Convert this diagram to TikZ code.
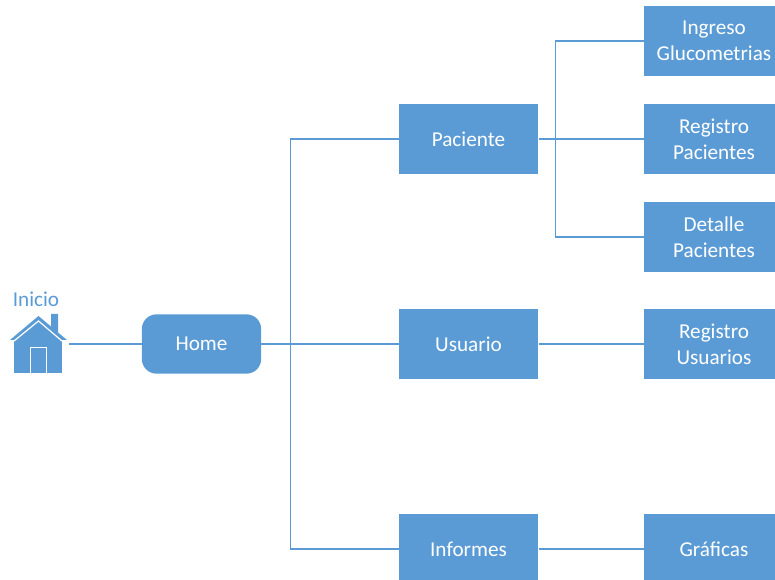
\documentclass[tikz,border=0pt]{standalone}
\usepackage{fontspec}
\setmainfont{Carlito}
\definecolor{bl}{HTML}{5B9BD5}
\tikzset{
 sq/.style={fill=bl,text=white,minimum width=104.6pt,minimum height=52pt,inner sep=0pt,align=center,font=\fontsize{15.9pt}{19.5pt}\selectfont},
 link/.style={draw=bl,line width=0.9pt},
}
\begin{document}
\begin{tikzpicture}[x=0.75pt,y=-0.75pt]
\useasboundingbox (0,0) rectangle (775,580);
\begin{scope}
\clip (0,0) rectangle (775,580);
\node[sq,minimum width=89.5pt,minimum height=44.5pt,rounded corners=11pt] (home) at (201.5,344) {\raisebox{-1.2pt}{Home}};
\node[sq] (pac) at (468.5,139) {\raisebox{-0.6pt}{Paciente}};
\node[sq] (usu) at (468.5,344) {\raisebox{-0.6pt}{Usuario}};
\node[sq] (inf) at (468.5,549) {\raisebox{-0.6pt}{Informes}};
\node[sq] (ing) at (714,41) {Ingreso\\Glucometrias};
\node[sq] (rp) at (714,139) {Registro\\Pacientes};
\node[sq] (dp) at (714,237) {Detalle\\Pacientes};
\node[sq] (ru) at (714,344) {Registro\\Usuarios};
\node[sq] (gr) at (714,549) {\raisebox{-0.6pt}{Gráficas}};
\node[text=bl,font=\fontsize{15.9pt}{16pt}\selectfont,inner sep=0pt] (ini) at (36,299.5) {Inicio};
% house
\fill[bl] (14,340) -- (62,340) -- (62,373) -- (14,373) -- cycle;
\fill[bl] (10,340) -- (38.5,316) -- (51,326.5) -- (51,314) -- (58,314) -- (58,332.5) -- (67,340) -- cycle;
\draw[white,line width=0.9pt] (14,341) -- (38.5,321) -- (62,341);
\draw[white,line width=0.9pt] (30.5,373) -- (30.5,347.5) -- (46.5,347.5) -- (46.5,373);
\coordinate (house) at (69,344);
\draw[link] (house) -- (home.west);
\coordinate (j1) at (290.5,344);
\draw[link] (home.east) -- (usu.west);
\draw[link] (pac.west) -| (j1) |- (inf.west);
\coordinate (j2) at (555.5,139);
\draw[link] (pac.east) -- (rp.west);
\draw[link] (ing.west) -| (j2) |- (dp.west);
\draw[link] (usu.east) -- (ru.west);
\draw[link] (inf.east) -- (gr.west);
\end{scope}
\end{tikzpicture}
\end{document}
